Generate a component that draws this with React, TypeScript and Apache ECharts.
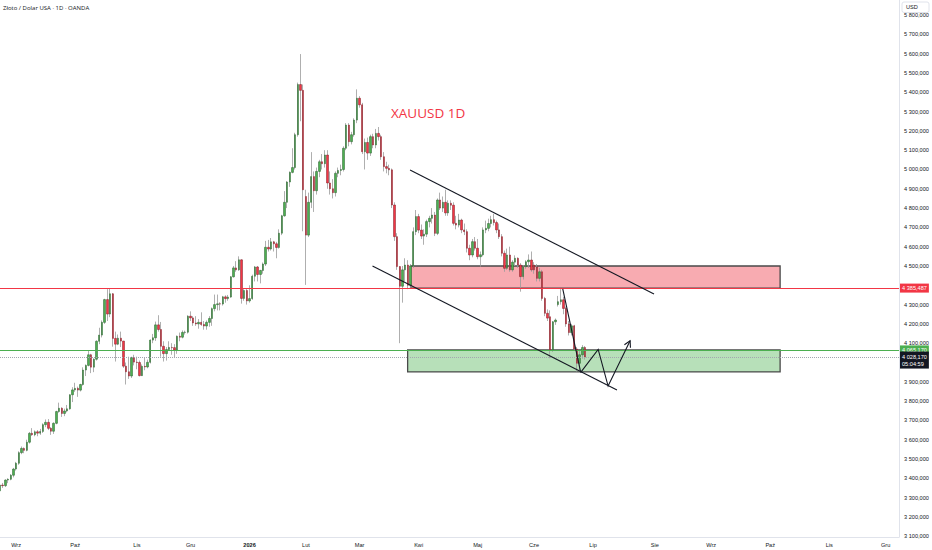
import React, { useEffect, useRef } from "react";
import * as echarts from "echarts";

// ---------- DATA (daily candles, [open, high, low, close]) ----------
const AUG_2025 = [
  [3335, 3372, 3322, 3365], [3365, 3376, 3350, 3362], [3362, 3395, 3355, 3391],
  [3391, 3400, 3375, 3395], [3395, 3422, 3390, 3416], [3416, 3454, 3405, 3448],
];
const SEP_2025 = [
  [3448, 3485, 3440, 3478], [3478, 3540, 3470, 3533], [3533, 3565, 3525, 3555],
  [3555, 3560, 3530, 3545], [3545, 3600, 3540, 3587], [3587, 3640, 3580, 3633],
  [3633, 3660, 3620, 3626], [3626, 3648, 3618, 3641], [3641, 3650, 3618, 3634],
  [3634, 3656, 3625, 3643], [3643, 3685, 3635, 3678], [3678, 3705, 3665, 3690],
  [3690, 3707, 3650, 3659], [3659, 3665, 3625, 3644], [3644, 3690, 3630, 3685],
  [3685, 3750, 3680, 3746], [3746, 3792, 3740, 3763], [3763, 3768, 3718, 3736],
  [3736, 3761, 3722, 3749], [3749, 3780, 3742, 3760], [3760, 3835, 3755, 3833],
  [3833, 3872, 3795, 3858],
];
const OCT_2025 = [
  [3858, 3895, 3848, 3866], [3866, 3875, 3822, 3857], [3857, 3890, 3850, 3886],
  [3886, 3975, 3880, 3961], [3961, 3990, 3930, 3985], [3985, 4060, 3980, 4040],
  [4040, 4045, 3945, 3976], [3976, 4022, 3950, 4017], [4017, 4115, 4010, 4110],
  [4110, 4180, 4095, 4142], [4142, 4218, 4130, 4208], [4208, 4330, 4200, 4326],
  [4326, 4380, 4215, 4251], [4251, 4381, 4235, 4356], [4356, 4360, 4082, 4125],
  [4125, 4160, 4005, 4095], [4095, 4145, 4090, 4126], [4126, 4160, 4080, 4111],
  [4111, 4112, 3972, 3981], [3981, 4000, 3886, 3952], [3952, 4030, 3915, 3930],
  [3930, 4030, 3920, 4025], [4025, 4040, 3985, 4002],
];
const NOV_2025 = [
  [4002, 4030, 3965, 4000], [4000, 4010, 3928, 3932], [3932, 3990, 3930, 3980],
  [3980, 4025, 3960, 3977], [3977, 4015, 3970, 4001], [4001, 4120, 3995, 4116],
  [4116, 4148, 4100, 4128], [4128, 4212, 4112, 4195], [4195, 4245, 4160, 4171],
  [4171, 4210, 4030, 4084], [4084, 4110, 4005, 4046], [4046, 4080, 4010, 4067],
  [4067, 4110, 4060, 4078], [4078, 4100, 4040, 4077], [4077, 4095, 4025, 4065],
  [4065, 4140, 4045, 4136], [4136, 4155, 4110, 4131], [4131, 4166, 4125, 4156],
  [4156, 4165, 4145, 4157], [4157, 4245, 4150, 4240],
];
const DEC_2025 = [
  [4240, 4265, 4215, 4231], [4231, 4240, 4190, 4205], [4205, 4240, 4190, 4200],
  [4200, 4225, 4175, 4208], [4208, 4260, 4190, 4197], [4197, 4215, 4170, 4189],
  [4189, 4218, 4170, 4208], [4208, 4240, 4185, 4228], [4228, 4285, 4190, 4279],
  [4279, 4352, 4265, 4300], [4300, 4352, 4270, 4304], [4304, 4312, 4270, 4303],
  [4303, 4345, 4295, 4340], [4340, 4348, 4310, 4331], [4331, 4350, 4320, 4339],
  [4339, 4448, 4335, 4444], [4444, 4500, 4440, 4490], [4490, 4525, 4470, 4480],
  [4480, 4550, 4475, 4532], [4532, 4535, 4305, 4332], [4332, 4380, 4320, 4373],
  [4373, 4385, 4300, 4319],
];
const JAN_2026 = [
  [4319, 4400, 4310, 4331], [4331, 4455, 4325, 4447], [4447, 4500, 4420, 4495],
  [4495, 4500, 4420, 4456], [4456, 4480, 4410, 4477], [4477, 4518, 4460, 4510],
  [4510, 4630, 4500, 4597], [4597, 4635, 4575, 4588], [4588, 4645, 4580, 4625],
  [4625, 4630, 4575, 4615], [4615, 4625, 4540, 4596], [4596, 4690, 4590, 4670],
  [4670, 4765, 4660, 4760], [4760, 4888, 4755, 4830], [4830, 4940, 4800, 4935],
  [4935, 4990, 4910, 4985], [4985, 5110, 4980, 5010], [5010, 5190, 5000, 5180],
  [5180, 5450, 5170, 5440], [5440, 5598, 5250, 5410], [5410, 5440, 4680, 4895],
];
const FEB_2026 = [
  [4860, 4895, 4402, 4660], [4660, 4880, 4650, 4830], [4830, 5090, 4800, 4963],
  [4963, 4990, 4780, 4890], [4890, 5010, 4870, 4990], [4990, 5050, 4960, 5040],
  [5040, 5080, 5000, 5030], [5030, 5100, 5010, 5075], [5075, 5100, 4900, 4930],
  [4930, 4990, 4870, 4900], [4900, 4950, 4850, 4880], [4880, 4990, 4860, 4980],
  [4980, 5010, 4960, 4995], [4995, 5025, 4970, 5000], [5000, 5120, 4990, 5110],
  [5110, 5240, 5100, 5230], [5230, 5240, 5120, 5144], [5144, 5195, 5130, 5180],
  [5180, 5265, 5170, 5256], [5256, 5415, 5240, 5369],
];
const MAR_2026 = [
  [5369, 5380, 5320, 5335], [5335, 5345, 5080, 5092], [5092, 5160, 5000, 5140],
  [5140, 5165, 5050, 5085], [5085, 5180, 5070, 5170], [5170, 5185, 5110, 5127],
  [5127, 5210, 5110, 5187], [5187, 5220, 5150, 5170], [5170, 5180, 5050, 5066],
  [5066, 5090, 4990, 5015], [5015, 5040, 4980, 5006], [5006, 5025, 4970, 4998],
  [4998, 5005, 4800, 4816], [4816, 4830, 4630, 4652], [4652, 4670, 4480, 4497],
  [4497, 4500, 4100, 4395], [4395, 4500, 4310, 4480], [4480, 4540, 4420, 4505],
  [4505, 4530, 4380, 4400], [4400, 4510, 4385, 4500], [4500, 4700, 4490, 4678],
  [4678, 4790, 4660, 4756],
];
const APR_2026 = [
  [4756, 4770, 4670, 4686], [4686, 4715, 4640, 4655], [4655, 4690, 4610, 4665],
  [4665, 4740, 4650, 4730], [4730, 4760, 4700, 4747], [4747, 4800, 4720, 4764],
  [4764, 4780, 4655, 4669], [4669, 4850, 4660, 4842], [4842, 4880, 4790, 4800],
  [4800, 4860, 4780, 4830], [4830, 4895, 4760, 4775], [4775, 4840, 4760, 4825],
  [4825, 4840, 4790, 4815], [4815, 4830, 4710, 4721], [4721, 4760, 4690, 4712],
  [4712, 4770, 4700, 4738], [4738, 4745, 4670, 4687], [4687, 4720, 4660, 4678],
  [4678, 4690, 4570, 4592], [4592, 4610, 4530, 4557], [4557, 4640, 4545, 4626],
  [4626, 4650, 4580, 4592],
];
const MAY_2026 = [
  [4592, 4640, 4535, 4548], [4548, 4575, 4496, 4558], [4558, 4700, 4550, 4687],
  [4687, 4735, 4670, 4695], [4695, 4745, 4680, 4720], [4720, 4760, 4700, 4740],
  [4740, 4770, 4710, 4725], [4725, 4735, 4670, 4687], [4687, 4720, 4640, 4652],
  [4652, 4665, 4550, 4566], [4566, 4580, 4470, 4488], [4488, 4590, 4480, 4557],
  [4557, 4600, 4470, 4480], [4480, 4530, 4470, 4520], [4520, 4555, 4500, 4540],
  [4540, 4545, 4490, 4505], [4505, 4515, 4367, 4445], [4445, 4505, 4430, 4496],
  [4496, 4530, 4485, 4522], [4522, 4560, 4490, 4531], [4531, 4575, 4470, 4480],
];
const JUN_2026 = [
  [4505, 4520, 4460, 4480], [4495, 4510, 4420, 4436], [4436, 4490, 4420, 4470],
  [4470, 4480, 4320, 4332], [4332, 4340, 4240, 4255], [4255, 4275, 4215, 4230],
  [4237, 4270, 4022, 4065], [4065, 4215, 4055, 4211], [4211, 4228, 4195, 4220],
  [4300, 4345, 4290, 4315], [4315, 4380, 4300, 4325], [4325, 4340, 4250, 4280],
  [4280, 4290, 4185, 4200], [4200, 4215, 4140, 4155], [4155, 4200, 4140, 4190],
  [4190, 4195, 4060, 4070], [4070, 4080, 3953, 3996], [3996, 4060, 3955, 4040],
  [4040, 4090, 4020, 4078], [4078, 4085, 4015, 4028.17],
];

// Horizontal levels
const RESISTANCE_LEVEL = 4385.487;
const SUPPORT_LEVEL = 4065.17;
const LAST_PRICE = 4028.17;
const COUNTDOWN = "05:04:59";

// Drawings in [bar index, price]
const UPPER_CHANNEL = [[152.8, 4997], [243.7, 4355]];
const LOWER_CHANNEL = [[138.8, 4500], [229.9, 3858]];
const DROP_LINE = [[209.7, 4381], [216.4, 3949]];
const PROJECTION = [[216.4, 3949], [222.9, 4068], [226.6, 3878], [234.8, 4113]];
const RESISTANCE_ZONE = [[153.0, 4500], [290.7, RESISTANCE_LEVEL]];
const SUPPORT_ZONE = [[151.9, SUPPORT_LEVEL], [290.7, 3951]];

// Axis
const MONTHS_PL = ["Sty", "Lut", "Mar", "Kwi", "Maj", "Cze", "Lip", "Sie", "Wrz", "Paź", "Lis", "Gru"];
const HOLIDAYS = ["2025-12-25", "2026-01-01", "2026-12-25"];
const BAR_COUNT = 336;
const PRICE_MIN = 3096;
const PRICE_MAX = 5878;
// price-scale ticks hidden behind the level labels on the price axis
const COVERED_TICKS = [4400, 4000];

function tradingDays(count: number): string[] {
  const out: string[] = [];
  const d = new Date(Date.UTC(2025, 7, 22));
  while (out.length < count) {
    const wd = d.getUTCDay();
    const s = d.toISOString().slice(0, 10);
    if (wd !== 0 && wd !== 6 && !HOLIDAYS.includes(s)) out.push(s);
    d.setUTCDate(d.getUTCDate() + 1);
  }
  return out;
}

function fmtPrice(v: number): string {
  const [int, dec] = v.toFixed(3).split(".");
  return int.slice(0, -3) + " " + int.slice(-3) + "," + dec;
}

const FONT = "Liberation Sans";

export default function App() {
  const ref = useRef<HTMLDivElement>(null);

  useEffect(() => {
    if (!ref.current) return;
    const chart = echarts.init(ref.current, null, { renderer: "svg" });

    const dates = tradingDays(BAR_COUNT);
    const ohlc = [
      ...AUG_2025, ...SEP_2025, ...OCT_2025, ...NOV_2025, ...DEC_2025,
      ...JAN_2026, ...FEB_2026, ...MAR_2026, ...APR_2026, ...MAY_2026, ...JUN_2026,
    ];
    const wickData = ohlc.map(([o, h, l, c]) => [o, c, l, h]);
    const bodyData = ohlc.map(([o, h, l, c]) => [o, c, Math.min(o, c), Math.max(o, c)]);

    const zones = [
      { pts: RESISTANCE_ZONE, fill: "#f8abb1" },
      { pts: SUPPORT_ZONE, fill: "#b7e0b9" },
    ];
    const lines = [UPPER_CHANNEL, LOWER_CHANNEL, DROP_LINE, PROJECTION];
    const arrowIndex = 3;

    const option: any = {
      animation: false,
      backgroundColor: "#ffffff",
      textStyle: { fontFamily: FONT },
      grid: { left: 0, right: 33, top: 0, bottom: 13 },
      xAxis: [
        {
          type: "category",
          data: dates,
          boundaryGap: false,
          axisLine: { show: true, onZero: false, lineStyle: { color: "#e0e3eb", width: 1 } },
          axisTick: { show: false },
          splitLine: { show: false },
          axisLabel: {
            color: "#131722",
            fontSize: 5.6,
            margin: 5,
            fontFamily: FONT,
            interval: (index: number, value: string) =>
              index > 0 && value.slice(0, 7) !== dates[index - 1].slice(0, 7),
            formatter: (value: string) => {
              const m = +value.slice(5, 7);
              return m === 1 ? "{y|" + value.slice(0, 4) + "}" : MONTHS_PL[m - 1];
            },
            rich: { y: { fontWeight: "bold", fontSize: 5.6, color: "#131722", fontFamily: FONT } },
          },
        },
        { type: "value", min: 0, max: BAR_COUNT - 1, show: false },
      ],
      yAxis: {
        type: "value",
        position: "right",
        min: PRICE_MIN,
        max: PRICE_MAX,
        splitNumber: 28,
        minInterval: 100,
        maxInterval: 100,
        axisLine: { show: true, onZero: false, lineStyle: { color: "#e0e3eb" } },
        axisTick: { show: false },
        splitLine: { show: false },
        axisLabel: {
          color: "#131722",
          fontSize: 5.6,
          margin: 5,
          fontFamily: FONT,
          showMinLabel: false,
          showMaxLabel: false,
          formatter: (v: number) => {
            if (Math.abs(v % 100) > 0.001) return "";
            if (COVERED_TICKS.includes(Math.round(v))) return "";
            const s = Math.round(v).toString();
            return s.slice(0, -3) + " " + s.slice(-3) + ",000";
          },
        },
      },
      series: [
        {
          type: "custom",
          name: "zones",
          xAxisIndex: 1,
          yAxisIndex: 0,
          z: 1,
          silent: true,
          clip: true,
          data: zones.map((z) => z.pts[0]),
          encode: { x: 0, y: 1 },
          renderItem: (params: any, api: any) => {
            const z = zones[params.dataIndex];
            const a = api.coord(z.pts[0]);
            const b = api.coord(z.pts[1]);
            return {
              type: "rect",
              shape: {
                x: Math.min(a[0], b[0]),
                y: Math.min(a[1], b[1]),
                width: Math.abs(b[0] - a[0]),
                height: Math.abs(b[1] - a[1]),
              },
              style: { fill: z.fill, stroke: "#4a4a4a", lineWidth: 1.3 },
            };
          },
        },
        {
          type: "candlestick",
          name: "wicks",
          z: 2,
          barWidth: 1,
          silent: true,
          data: wickData,
          itemStyle: {
            color: "#9a9a9a",
            color0: "#9a9a9a",
            borderColor: "#9a9a9a",
            borderColor0: "#9a9a9a",
            borderWidth: 0.8,
          },
        },
        {
          type: "candlestick",
          name: "bodies",
          z: 3,
          barWidth: 1.9,
          silent: true,
          data: bodyData,
          itemStyle: {
            color: "#4caf50",
            color0: "#f23645",
            borderColor: "#2b5e2e",
            borderColor0: "#7c1d26",
            borderWidth: 0.5,
          },
        },
        {
          type: "custom",
          name: "drawings",
          xAxisIndex: 1,
          yAxisIndex: 0,
          z: 5,
          silent: true,
          clip: true,
          data: lines.map((l) => l[0]),
          encode: { x: 0, y: 1 },
          renderItem: (params: any, api: any) => {
            const pts = lines[params.dataIndex].map((p) => api.coord(p));
            const children: any[] = [
              {
                type: "polyline",
                shape: { points: pts },
                style: { stroke: "#131722", lineWidth: 1.1, fill: "none" },
              },
            ];
            if (params.dataIndex === arrowIndex) {
              const a = pts[pts.length - 2];
              const b = pts[pts.length - 1];
              const ang = Math.atan2(b[1] - a[1], b[0] - a[0]);
              const len = 7;
              const sp = 0.5;
              children.push({
                type: "polyline",
                shape: {
                  points: [
                    [b[0] - len * Math.cos(ang - sp), b[1] - len * Math.sin(ang - sp)],
                    b,
                    [b[0] - len * Math.cos(ang + sp), b[1] - len * Math.sin(ang + sp)],
                  ],
                },
                style: { stroke: "#131722", lineWidth: 1.1, fill: "none" },
              });
            }
            return { type: "group", children };
          },
          markLine: {
            silent: true,
            symbol: ["none", "none"],
            animation: false,
            data: [
              {
                yAxis: RESISTANCE_LEVEL,
                lineStyle: { color: "#f23645", width: 1, type: "solid" },
                label: {
                  show: true, position: "end", distance: 1, formatter: fmtPrice(RESISTANCE_LEVEL),
                  color: "#ffffff", backgroundColor: "#f23645", padding: [1.5, 2], fontSize: 5.6, fontFamily: FONT,
                },
              },
              {
                yAxis: SUPPORT_LEVEL,
                lineStyle: { color: "#4caf50", width: 1, type: "solid" },
                label: {
                  show: true, position: "end", distance: 1, formatter: fmtPrice(SUPPORT_LEVEL),
                  color: "#ffffff", backgroundColor: "#4caf50", padding: [1.5, 2], fontSize: 5.6, fontFamily: FONT,
                },
              },
              {
                yAxis: LAST_PRICE,
                lineStyle: { color: "#a3a6af", width: 1, type: "dotted" },
                label: {
                  show: true, position: "end", distance: 1,
                  formatter: fmtPrice(LAST_PRICE) + "\n" + COUNTDOWN,
                  color: "#ffffff", backgroundColor: "#131722", padding: [1.5, 2], fontSize: 5.6,
                  lineHeight: 7, fontFamily: FONT, offset: [0, 3],
                },
              },
            ],
          },
        },
      ],
      graphic: [
        {
          type: "text",
          x: 3,
          y: 7.5,
          style: {
            text: "Złoto / Dolar USA · 1D · OANDA",
            fontSize: 6,
            fill: "#131722",
            fontFamily: "Open Sans",
            verticalAlign: "middle",
          },
        },
        {
          type: "text",
          x: 391,
          y: 112.5,
          style: {
            text: "XAUUSD 1D",
            fontSize: 13.5,
            fill: "#f23645",
            fontFamily: "Open Sans",
            verticalAlign: "middle",
          },
        },
        {
          type: "rect",
          shape: { x: 902, y: 2, width: 27, height: 10.5, r: 2 },
          style: { fill: "#ffffff", stroke: "#e0e3eb", lineWidth: 1 },
          z: 100,
        },
        {
          type: "text",
          x: 906,
          y: 7.3,
          z: 101,
          style: { text: "USD", fontSize: 5.6, fill: "#131722", fontFamily: FONT, verticalAlign: "middle" },
        },
      ],
    };

    chart.setOption(option);
    return () => chart.dispose();
  }, []);

  return (
    <div
      ref={ref}
      style={{ position: "fixed", left: 0, top: 0, width: 932, height: 550, background: "#ffffff" }}
    />
  );
}
